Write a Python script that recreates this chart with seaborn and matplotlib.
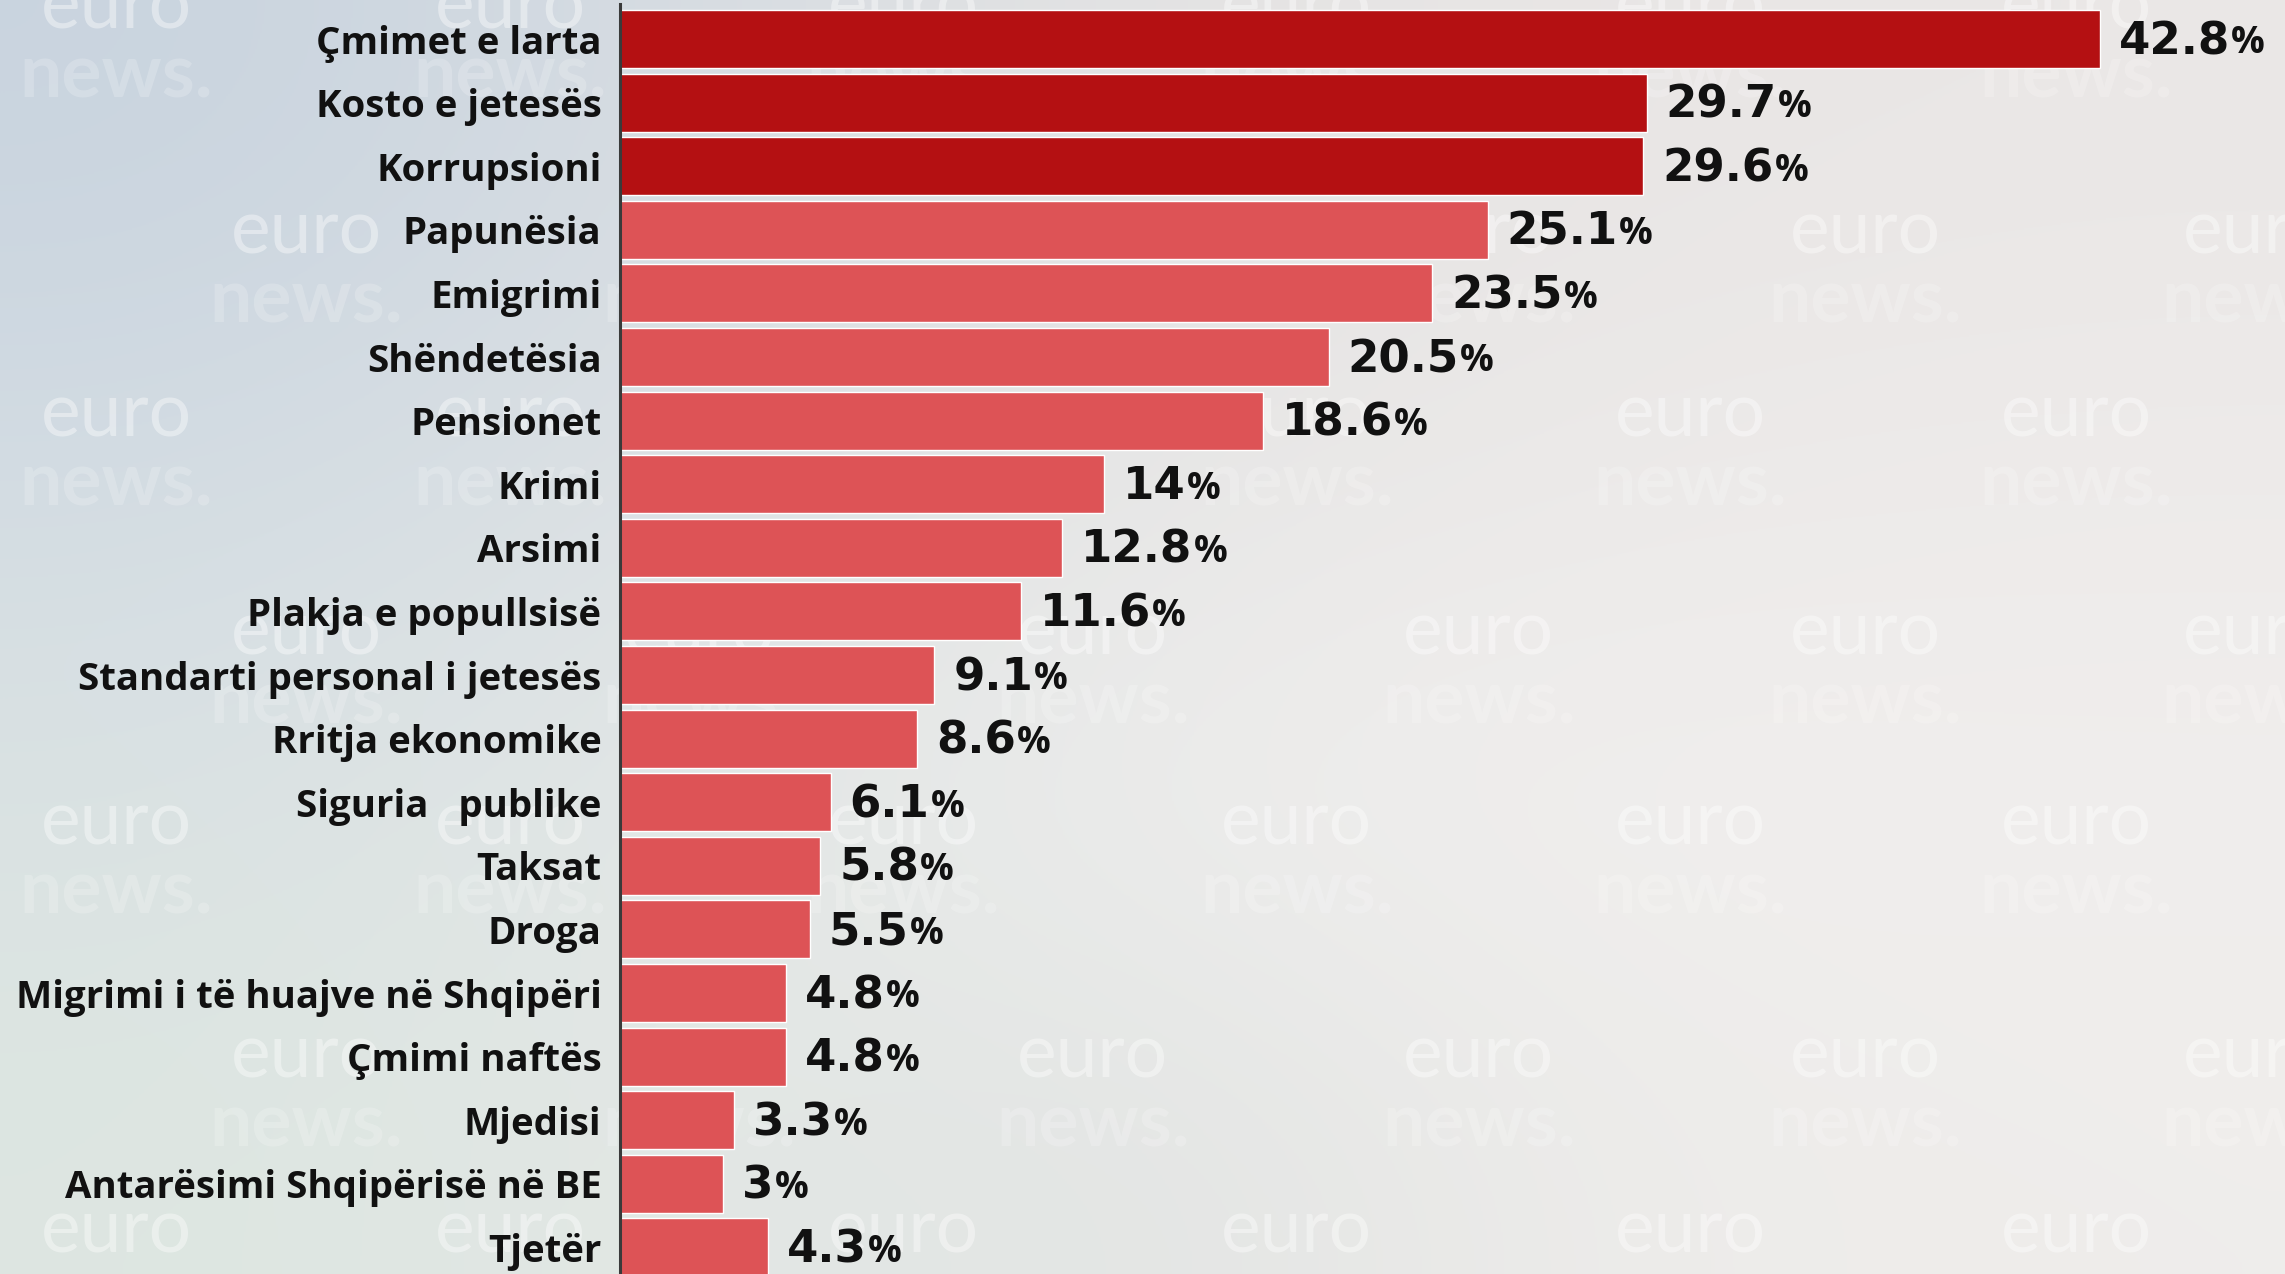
import numpy as np
import pandas as pd
import matplotlib
matplotlib.use("Agg")
import matplotlib.pyplot as plt
import seaborn as sns
from matplotlib.colors import to_rgb

categories = ["Çmimet e larta", "Kosto e jetesës", "Korrupsioni", "Papunësia",
              "Emigrimi", "Shëndetësia", "Pensionet", "Krimi", "Arsimi",
              "Plakja e popullsisë", "Standarti personal i jetesës",
              "Rritja ekonomike", "Siguria   publike", "Taksat", "Droga",
              "Migrimi i të huajve në Shqipëri", "Çmimi naftës", "Mjedisi",
              "Antarësimi Shqipërisë në BE", "Tjetër"]
values = [42.8, 29.7, 29.6, 25.1, 23.5, 20.5, 18.6, 14, 12.8, 11.6,
          9.1, 8.6, 6.1, 5.8, 5.5, 4.8, 4.8, 3.3, 3, 4.3]
value_labels = ["42.8", "29.7", "29.6", "25.1", "23.5", "20.5", "18.6", "14",
                "12.8", "11.6", "9.1", "8.6", "6.1", "5.8", "5.5", "4.8",
                "4.8", "3.3", "3", "4.3"]
dark_red = "#B41012"
light_red = "#DD5356"
colors = [dark_red] * 3 + [light_red] * (len(categories) - 3)

sns.set_theme(style="white")
plt.rcParams["font.family"] = ["Open Sans", "DejaVu Sans"]

W, H = 2285, 1274
fig = plt.figure(figsize=(W / 100, H / 100), dpi=100)

# background gradient
bg = fig.add_axes([0, 0, 1, 1])
grid = np.array([
    [to_rgb("#C9D4DF"), to_rgb("#D6DCE2"), to_rgb("#E4E3E3"), to_rgb("#E9E6E5"), to_rgb("#EAE7E6")],
    [to_rgb("#D3DCE3"), to_rgb("#DCE1E4"), to_rgb("#E8E7E6"), to_rgb("#ECEAE9"), to_rgb("#EEEBEA")],
    [to_rgb("#DAE2E3"), to_rgb("#E3E7E6"), to_rgb("#EEEEED"), to_rgb("#F1EFEE"), to_rgb("#F0EEED")],
    [to_rgb("#DDE6E1"), to_rgb("#E3E8E5"), to_rgb("#E2E4E3"), to_rgb("#EDECEA"), to_rgb("#EFEDEB")],
])
bg.imshow(grid, extent=[0, 1, 0, 1], aspect="auto", interpolation="bicubic", origin="upper")
bg.set_xlim(0, 1)
bg.set_ylim(0, 1)
bg.axis("off")

# faint watermarks
rowsA = [30, 310, 590, 870]
rowsB = [185, 460, 750]
colsA = [80, 350, 620, 890, 1160, 1425]
colsB = [210, 480, 750, 1015, 1280, 1550]
for rows, cols in ((rowsA, colsA), (rowsB, colsB)):
    for ry in rows:
        for cx in cols:
            x = cx * 1.457 / W
            y = 1 - ry * 1.457 / H
            bg.text(x, y + 0.002, "euro", ha="center", va="bottom", fontsize=54,
                    fontweight="normal", color="white", alpha=0.4,
                    family=["Lato", "DejaVu Sans"])
            bg.text(x, y + 0.002, "news.", ha="center", va="top", fontsize=54,
                    fontweight="bold", color="white", alpha=0.2,
                    family=["Lato", "DejaVu Sans"])

left_px = 619.5
top_px = 4
ax = fig.add_axes([left_px / W, 0, 1 - left_px / W, (H - top_px) / H])
ax.patch.set_alpha(0)

df = pd.DataFrame({"cat": categories, "val": values})
sns.barplot(data=df, x="val", y="cat", hue="cat", palette=colors, legend=False,
            width=0.91, orient="h", ax=ax, saturation=1)

px_per_unit = (2100 - left_px) / 42.8
ax.set_xlim(0, (W - left_px) / px_per_unit)
pitch = 63.6
c0 = 39
ax.set_ylim((H - c0) / pitch, (top_px - c0) / pitch)

for s in ["top", "right", "bottom"]:
    ax.spines[s].set_visible(False)
ax.spines["left"].set_color("#3a3a3a")
ax.spines["left"].set_linewidth(2.2)
ax.set_xticks([])
ax.set_xlabel("")
ax.set_ylabel("")
ax.tick_params(axis="y", length=0, pad=13)
for lab in ax.get_yticklabels():
    lab.set_fontsize(27.6)
    lab.set_fontweight("bold")
    lab.set_color("#111111")

fig.canvas.draw()
renderer = fig.canvas.get_renderer()
offset = 19 / px_per_unit
for i, (v, s) in enumerate(zip(values, value_labels)):
    t = ax.text(v + offset, i + 0.04, s, ha="left", va="center", fontsize=32.5,
                fontweight="heavy", color="#111111",
                family=["DejaVu Sans"])
    bb = t.get_window_extent(renderer=renderer)
    x_end = ax.transData.inverted().transform((bb.x1, 0))[0]
    ax.text(x_end + 1 / px_per_unit, i + 0.07, "%", ha="left", va="center",
            fontsize=27, fontweight="bold", color="#111111")

fig.savefig("out.png", dpi=100)
